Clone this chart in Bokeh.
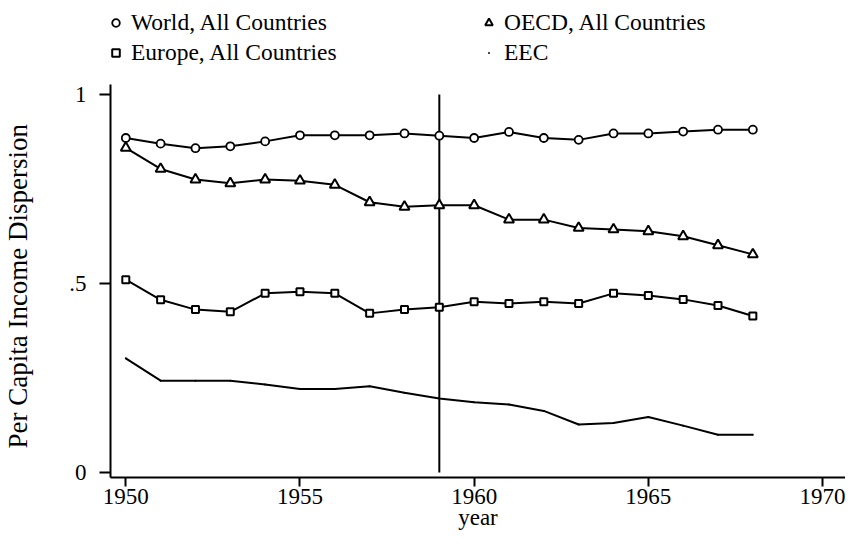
from bokeh.plotting import figure
from bokeh.models import Range1d, FixedTicker, Legend, LegendItem
from bokeh.embed import file_html
from bokeh.resources import INLINE

# ---- data ----
years = list(range(1950, 1969))
world = [0.885, 0.870, 0.858, 0.863, 0.876, 0.892, 0.892, 0.892, 0.897, 0.891,
         0.885, 0.901, 0.885, 0.880, 0.897, 0.897, 0.902, 0.907, 0.907]
oecd = [0.859, 0.803, 0.775, 0.765, 0.775, 0.772, 0.761, 0.715, 0.703, 0.707,
        0.707, 0.669, 0.669, 0.647, 0.643, 0.638, 0.625, 0.601, 0.577]
europe = [0.510, 0.457, 0.431, 0.425, 0.474, 0.478, 0.474, 0.421, 0.431, 0.437,
          0.452, 0.447, 0.452, 0.447, 0.474, 0.468, 0.458, 0.442, 0.414]
eec = [0.302, 0.243, 0.243, 0.243, 0.233, 0.221, 0.221, 0.228, 0.211, 0.196,
       0.186, 0.180, 0.163, 0.127, 0.131, 0.147, 0.124, 0.100, 0.100]
eec_marker_year = [1959]
eec_marker_span = [0, 1]
x_ticks = [1950, 1955, 1960, 1965, 1970]
y_ticks = [0, 0.5, 1]
y_tick_labels = {0: "0", 0.5: ".5", 1: "1"}
y_title = "Per Capita Income Dispersion"
x_title = "year"

FONT = "Liberation Serif"
FS = "23px"

Y_START, Y_END, Y_AXIS_TOP = -0.0132, 1.2487, 1.0265
X_START, X_END = 1949.561, 1970.66

p = figure(width=845, height=537, output_backend="svg", toolbar_location=None,
           x_range=Range1d(X_START, X_END), y_range=Range1d(Y_START, Y_END),
           min_border_left=110, min_border_right=0, min_border_top=0,
           min_border_bottom=60)
p.outline_line_color = None
p.xgrid.visible = False
p.ygrid.visible = False
p.background_fill_color = "white"

for ax in (p.xaxis[0], p.yaxis[0]):
    ax.axis_line_width = 2
    ax.axis_line_color = "black"
    ax.major_tick_line_width = 2
    ax.major_tick_line_color = "black"
    ax.major_tick_in = 0
    ax.minor_tick_line_color = None
    ax.major_label_text_font = FONT
    ax.major_label_text_font_size = FS
    ax.major_label_text_color = "black"
    ax.axis_label_text_font = FONT
    ax.axis_label_text_font_size = FS
    ax.axis_label_text_font_style = "normal"
    ax.axis_label_text_color = "black"

p.xaxis.ticker = FixedTicker(ticks=x_ticks)
p.xaxis.major_tick_out = 9
p.xaxis.major_label_standoff = 2
p.xaxis.axis_label = x_title
p.xaxis.axis_label_standoff = -2

p.yaxis.ticker = FixedTicker(ticks=y_ticks)
p.yaxis.major_label_overrides = y_tick_labels
p.yaxis.major_tick_out = 11
p.yaxis.major_label_standoff = 13
# trailing no-break spaces shift the centred title down to where the reference has it
p.yaxis.axis_label = y_title + "\u00a0" * 14
p.yaxis.axis_label_text_font_size = "27px"
p.yaxis.axis_label_standoff = 33
p.yaxis.bounds = (Y_START, Y_AXIS_TOP)

# vertical marker line
p.segment(x0=eec_marker_year, y0=[eec_marker_span[0]], x1=eec_marker_year,
          y1=[eec_marker_span[1]], line_color="black", line_width=2)

# series
p.line(years, world, line_color="black", line_width=2)
r_world = p.scatter(years, world, marker="circle", size=8, line_color="black",
                    line_width=1.8, fill_color="white")
p.line(years, oecd, line_color="black", line_width=2)
r_oecd = p.scatter(years, oecd, marker="triangle", size=10, line_color="black",
                   line_width=2, fill_color="white")
p.line(years, europe, line_color="black", line_width=2)
r_europe = p.scatter(years, europe, marker="square", size=7, line_color="black",
                     line_width=2, fill_color="white")
p.line(years, eec, line_color="black", line_width=2)
r_eec = p.scatter(years, eec, marker="dot", size=8, line_color="black",
                  fill_color="black")

legend = Legend(items=[
    LegendItem(label="World, All Countries", renderers=[r_world]),
    LegendItem(label="Europe, All Countries", renderers=[r_europe]),
    LegendItem(label="OECD, All Countries", renderers=[r_oecd]),
    LegendItem(label="EEC", renderers=[r_eec]),
], orientation="vertical", nrows=2, location=(-4, 411))
legend.border_line_color = None
legend.background_fill_alpha = 0
legend.padding = 0
legend.margin = 0
legend.spacing = 3
legend.glyph_width = 19
legend.glyph_height = 19
legend.label_standoff = 6
legend.label_width = 345
legend.label_text_font = FONT
legend.label_text_font_size = "23.5px"
legend.label_text_color = "black"
p.add_layout(legend, "center")

open("out.html", "w").write(file_html(p, INLINE))
